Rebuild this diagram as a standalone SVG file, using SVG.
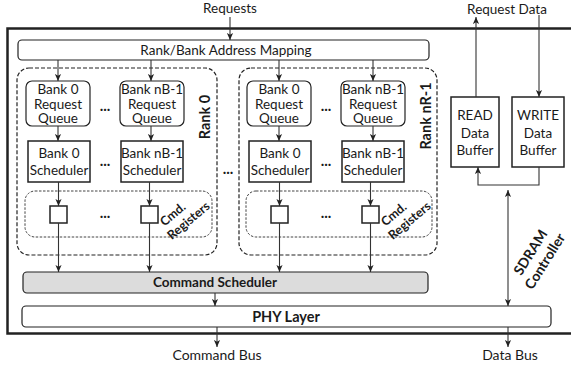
<svg xmlns="http://www.w3.org/2000/svg" width="571" height="368" viewBox="0 0 571 368">
<defs>
<marker id="ah" viewBox="0 0 8 8" refX="8" refY="4" markerWidth="7" markerHeight="7" markerUnits="userSpaceOnUse" orient="auto-start-reverse">
<path d="M0,0.5 L8,4 L0,7.5 L2,4 Z" fill="#222"/>
</marker>
</defs>
<style>
text{font-family:Lato,"Open Sans","Liberation Sans",sans-serif;fill:#1a1a1a;text-anchor:middle}
.t{font-size:13.5px}
.b{font-weight:bold}
.box{fill:#fff;stroke:#222;stroke-width:1.2}
.sq{fill:#fff;stroke:#222;stroke-width:1.5}
.rank{fill:none;stroke:#222;stroke-width:1.2;stroke-dasharray:4 2}
.cmd{fill:none;stroke:#444;stroke-width:1;stroke-dasharray:2.5 1.5}
.c{fill:none;stroke:#333;stroke-width:1.1;marker-end:url(#ah)}
.dots{font-size:15px;font-weight:bold}
.reg{font-size:12.5px;font-weight:bold}
</style>
<rect width="571" height="368" fill="#fff"/>
<rect id="frame" x="7.5" y="28.5" width="580" height="305" fill="none" stroke="#222" stroke-width="2.5"/>

<g id="mapping">
<rect class="box" x="18" y="40" width="411" height="20" rx="4"/>
<text class="t" x="226" y="54.5">Rank/Bank Address Mapping</text>
</g>

<g id="rank0">
<rect class="rank" x="17" y="68" width="200" height="187" rx="12"/>
<text class="b" font-size="14.5" transform="translate(210,117) rotate(-90)">Rank 0</text>
</g>
<g id="r0-q0"><rect class="box" x="26" y="81" width="64" height="45" rx="6"/>
<text class="t" x="58" y="94">Bank 0</text><text class="t" x="58" y="108.5">Request</text><text class="t" x="58" y="123">Queue</text></g>
<g id="r0-qn"><rect class="box" x="120" y="81" width="64" height="45" rx="6"/>
<text class="t" x="152" y="94">Bank nB-1</text><text class="t" x="152" y="108.5">Request</text><text class="t" x="152" y="123">Queue</text></g>
<g id="r0-s0"><rect class="sq" x="28" y="141" width="62" height="41"/>
<text class="t" x="59" y="158">Bank 0</text><text class="t" x="59" y="175">Scheduler</text></g>
<g id="r0-sn"><rect class="sq" x="121" y="141" width="62" height="41"/>
<text class="t" x="152" y="158">Bank nB-1</text><text class="t" x="152" y="175">Scheduler</text></g>
<g id="r0-cmd">
<rect class="cmd" x="25" y="191" width="187" height="46" rx="10"/>
<rect class="sq" x="50" y="206" width="17" height="17"/>
<rect class="sq" x="141" y="206" width="17" height="17"/>
<g transform="translate(182,216) rotate(-40)"><text class="reg" x="-6" y="-3">Cmd.</text><text class="reg" x="2" y="12">Registers</text></g>
</g>
<text class="dots" x="105" y="111">...</text>
<text class="dots" x="105" y="166">...</text>
<text class="dots" x="105" y="218">...</text>

<text class="dots" x="228" y="174">...</text>

<g id="rankN">
<rect class="rank" x="239" y="68" width="198" height="187" rx="12"/>
<text class="b" font-size="14.5" transform="translate(431,116) rotate(-90)">Rank nR-1</text>
</g>
<g id="rN-q0"><rect class="box" x="247" y="81" width="64" height="45" rx="6"/>
<text class="t" x="279" y="94">Bank 0</text><text class="t" x="279" y="108.5">Request</text><text class="t" x="279" y="123">Queue</text></g>
<g id="rN-qn"><rect class="box" x="341" y="81" width="64" height="45" rx="6"/>
<text class="t" x="373" y="94">Bank nB-1</text><text class="t" x="373" y="108.5">Request</text><text class="t" x="373" y="123">Queue</text></g>
<g id="rN-s0"><rect class="sq" x="249" y="141" width="62" height="41"/>
<text class="t" x="280" y="158">Bank 0</text><text class="t" x="280" y="175">Scheduler</text></g>
<g id="rN-sn"><rect class="sq" x="342" y="141" width="62" height="41"/>
<text class="t" x="373" y="158">Bank nB-1</text><text class="t" x="373" y="175">Scheduler</text></g>
<g id="rN-cmd">
<rect class="cmd" x="246" y="191" width="186" height="46" rx="10"/>
<rect class="sq" x="271" y="206" width="17" height="17"/>
<rect class="sq" x="362" y="206" width="17" height="17"/>
<g transform="translate(403,216) rotate(-40)"><text class="reg" x="-6" y="-3">Cmd.</text><text class="reg" x="2" y="12">Registers</text></g>
</g>
<text class="dots" x="326" y="111">...</text>
<text class="dots" x="326" y="166">...</text>
<text class="dots" x="326" y="218">...</text>

<g id="cmdsched">
<rect x="23" y="272" width="405" height="21" rx="4" fill="#dcdcdc" stroke="#222" stroke-width="1.2"/>
<text class="t b" x="215" y="287">Command Scheduler</text>
</g>
<g id="phy">
<rect class="box" x="22" y="306" width="529" height="21" rx="4"/>
<text class="b" font-size="14.5" x="286" y="322">PHY Layer</text>
</g>

<g id="readbuf"><rect class="sq" x="451" y="97" width="48" height="70"/>
<text class="t" x="475" y="120">READ</text><text class="t" x="475" y="138">Data</text><text class="t" x="475" y="155">Buffer</text></g>
<g id="writebuf"><rect class="sq" x="512" y="97" width="52" height="70"/>
<text class="t" x="538" y="120">WRITE</text><text class="t" x="538" y="138">Data</text><text class="t" x="538" y="155">Buffer</text></g>

<g id="sdram" transform="translate(538,257) rotate(-58)">
<text class="b" font-size="14" x="0" y="-4">SDRAM</text>
<text class="b" font-size="14" x="0" y="13">Controller</text>
</g>

<text class="t" x="230" y="13">Requests</text>
<text class="t" x="507" y="14">Request Data</text>
<text font-size="14" x="217" y="360">Command Bus</text>
<text font-size="14" x="510" y="360">Data Bus</text>

<g id="connectors">
<path class="c" d="M230,17 V40"/>
<path class="c" d="M58,60 V81"/>
<path class="c" d="M151,60 V81"/>
<path class="c" d="M279,60 V81"/>
<path class="c" d="M373,60 V81"/>
<path class="c" d="M58,126 V141"/>
<path class="c" d="M151,126 V141"/>
<path class="c" d="M279,126 V141"/>
<path class="c" d="M373,126 V141"/>
<path class="c" d="M58.5,182 V206"/>
<path class="c" d="M149.5,182 V206"/>
<path class="c" d="M279.5,182 V206"/>
<path class="c" d="M370.5,182 V206"/>
<path class="c" d="M58.5,223 V272"/>
<path class="c" d="M149.5,223 V272"/>
<path class="c" d="M279.5,223 V272"/>
<path class="c" d="M370.5,223 V272"/>
<path class="c" d="M215,293 V306"/>
<path class="c" d="M217,327 V347"/>
<path class="c" d="M508,327 V347"/>
<path class="c" d="M476,97 V17"/>
<path class="c" d="M539,15 V97"/>
<path class="c" d="M539,167 V185 H478 V167"/>
<path class="c" d="M508,190 V306" style="marker-start:url(#ah)"/>
</g>
</svg>
